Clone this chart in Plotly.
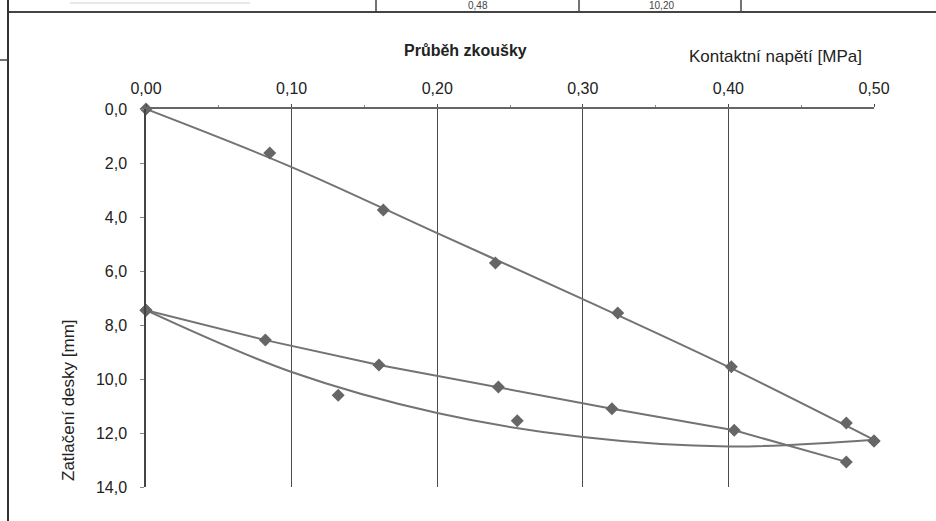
import plotly.graph_objects as go

# ---- data ----
# first loading (markers)
load1_x = [0.0, 0.085, 0.163, 0.240, 0.324, 0.402, 0.481, 0.500]
load1_y = [0.0, 1.63, 3.74, 5.70, 7.56, 9.55, 11.63, 12.30]
# first loading trend line (read at gridlines)
load1_trend_x = [0.0, 0.1, 0.2, 0.3, 0.4, 0.5]
load1_trend_y = [0.0, 2.15, 4.60, 7.04, 9.55, 12.25]

# unloading (markers)
unload_x = [0.500, 0.255, 0.132, 0.0]
unload_y = [12.30, 11.55, 10.60, 7.45]
# unloading trend curve (read at gridlines)
unload_trend_x = [0.0, 0.1, 0.2, 0.3, 0.4, 0.5]
unload_trend_y = [7.45, 9.74, 11.26, 12.15, 12.50, 12.25]

# second loading (line + markers)
load2_x = [0.0, 0.082, 0.160, 0.242, 0.320, 0.404, 0.481]
load2_y = [7.45, 8.56, 9.48, 10.30, 11.10, 11.90, 13.07]

x_ticks = [0.0, 0.1, 0.2, 0.3, 0.4, 0.5]
y_ticks = [0, 2, 4, 6, 8, 10, 12, 14]

title_text = "Průběh zkoušky"
x_title = "Kontaktní napětí [MPa]"
y_title = "Zatlačení desky [mm]"
table_texts = ["0,48", "10,20"]

# ---- styling ----
W, H = 936, 521
L, R, T, B = 146, 874, 109, 487
LINE_C = "#737373"
MARK_C = "#666666"
GRID_C = "#4a4a4a"
FONT = "Liberation Sans, Arial, sans-serif"
TXT_C = "#222222"


def px(x):
    return (x - L) / (R - L)


def py(y):
    return (B - y) / (B - T)


marker = dict(symbol="diamond", size=10, color=MARK_C)

fig = go.Figure()
fig.add_trace(go.Scatter(x=load1_trend_x, y=load1_trend_y, mode="lines",
                         line=dict(color=LINE_C, width=2, shape="spline"),
                         hoverinfo="skip"))
fig.add_trace(go.Scatter(x=load1_x, y=load1_y, mode="markers", marker=marker))
fig.add_trace(go.Scatter(x=unload_trend_x, y=unload_trend_y, mode="lines",
                         line=dict(color=LINE_C, width=2, shape="spline"),
                         hoverinfo="skip"))
fig.add_trace(go.Scatter(x=unload_x, y=unload_y, mode="markers", marker=marker))
fig.add_trace(go.Scatter(x=load2_x, y=load2_y, mode="lines+markers",
                         line=dict(color=LINE_C, width=2), marker=marker))
fig.update_traces(cliponaxis=False)

fig.update_layout(
    width=W, height=H,
    margin=dict(l=L, r=W - R, t=T, b=H - B, pad=0),
    paper_bgcolor="white", plot_bgcolor="white",
    showlegend=False,
    separators=", ",
    font=dict(family=FONT, size=16, color=TXT_C),
    xaxis=dict(
        side="top", range=[0, 0.5], tickvals=x_ticks, tickformat=".2f",
        showgrid=True, gridcolor=GRID_C, gridwidth=1.3,
        showline=True, linecolor="#666", linewidth=1.5,
        ticks="outside", ticklen=3, tickcolor=GRID_C,
        zeroline=False, ticklabelstandoff=4,
        minor=dict(dtick=0.05, ticks="outside", ticklen=2, tickcolor="#888", showgrid=False),
        tickfont=dict(size=16, color=TXT_C),
    ),
    yaxis=dict(
        range=[14, 0], tickvals=y_ticks, tickformat=".1f",
        showgrid=False, showline=True, linecolor="#444", linewidth=1.5,
        ticks="outside", ticklen=4, tickcolor="#888",
        zeroline=False, ticklabelstandoff=10,
        tickfont=dict(size=16, color=TXT_C),
    ),
)

ann = [
    dict(text="<b>" + title_text + "</b>", x=px(465), y=py(50), xref="paper", yref="paper",
         showarrow=False, font=dict(size=16, color=TXT_C), xanchor="center", yanchor="middle"),
    dict(text=x_title, x=px(775), y=py(57), xref="paper", yref="paper",
         showarrow=False, font=dict(size=17, color=TXT_C), xanchor="center", yanchor="middle"),
    dict(text=y_title, x=px(68), y=py(400), xref="paper", yref="paper", textangle=-90,
         showarrow=False, font=dict(size=17, color=TXT_C), xanchor="center", yanchor="middle"),
    dict(text=table_texts[0], x=px(478), y=py(5), xref="paper", yref="paper",
         showarrow=False, font=dict(size=10, color="#444"), xanchor="center", yanchor="middle"),
    dict(text=table_texts[1], x=px(661), y=py(5), xref="paper", yref="paper",
         showarrow=False, font=dict(size=10, color="#444"), xanchor="center", yanchor="middle"),
]
fig.update_layout(annotations=ann)

shapes = []


def seg(x0, y0, x1, y1, color="#333", width=2):
    shapes.append(dict(type="line", xref="paper", yref="paper",
                       x0=px(x0), y0=py(y0), x1=px(x1), y1=py(y1),
                       line=dict(color=color, width=width), layer="above"))


seg(8, 12, 936, 12, "#444", 2)
seg(8, 0, 8, 521, "#333", 2)
seg(0, 60, 8, 60, "#444", 1.5)
for xv in (376, 579, 741):
    seg(xv, 0, xv, 12, "#444", 1.5)
seg(70, 3, 250, 3, "#d0d0d0", 1)
fig.update_layout(shapes=shapes)

fig.write_html("out.html", config={"displayModeBar": False},
               post_script="document.body.style.margin='0';")
